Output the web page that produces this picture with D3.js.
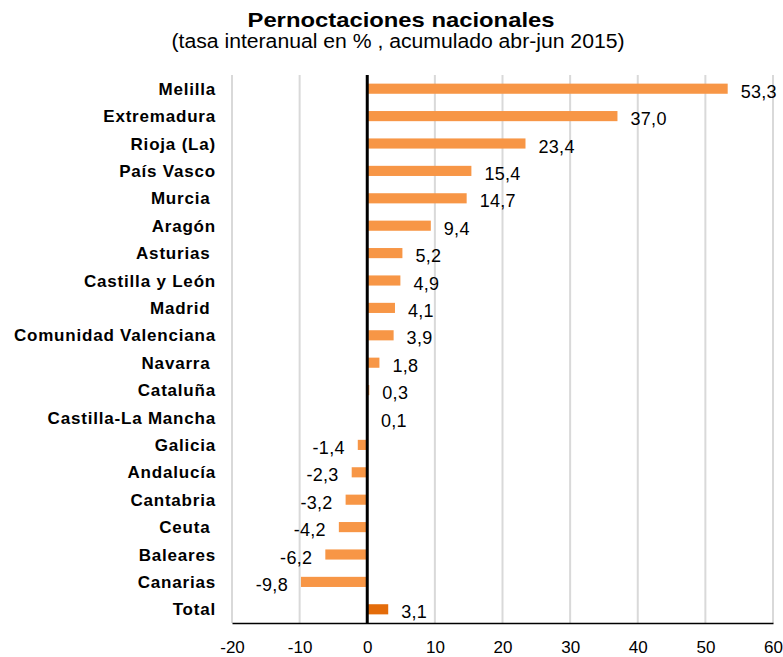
<!DOCTYPE html>
<html>
<head>
<meta charset="utf-8">
<script src="https://cdn.jsdelivr.net/npm/d3@7"></script>
<style>
  body { margin: 0; background: #fff; }
  text { font-family: "Liberation Sans", Arial, Helvetica, sans-serif; }
</style>
</head>
<body>
<div id="graph"></div>
<script>
var regiones = ["Melilla", "Extremadura", "Rioja (La)", "País Vasco", "Murcia ", "Aragón", "Asturias ",
  "Castilla y León", "Madrid ", "Comunidad Valenciana", "Navarra ", "Cataluña", "Castilla-La Mancha",
  "Galicia", "Andalucía", "Cantabria", "Ceuta ", "Baleares", "Canarias", "Total"];
var tasas = [53.3, 37.0, 23.4, 15.4, 14.7, 9.4, 5.2, 4.9, 4.1, 3.9, 1.8, 0.3, 0.1,
  -1.4, -2.3, -3.2, -4.2, -6.2, -9.8, 3.1];
var ticksX = [-20, -10, 0, 10, 20, 30, 40, 50, 60];

var data = regiones.map(function(r, i) { return {region: r, valor: tasas[i]}; });

var width = 783, height = 657;
var margin = {top: 75, right: 10, bottom: 34, left: 232};

var svg = d3.select("#graph").append("svg")
    .attr("width", width)
    .attr("height", height);

var x = d3.scaleLinear()
    .domain([-20, 60])
    .range([margin.left, width - margin.right]);

var y = d3.scaleBand()
    .domain(regiones)
    .range([margin.top, height - margin.bottom])
    .paddingInner(0.63)
    .paddingOuter(0.315);

var fmt = function(v) { return d3.format(".1f")(v).replace(".", ",").replace("−", "-"); };

// titulo
svg.append("text")
    .attr("x", 401).attr("y", 27)
    .attr("text-anchor", "middle")
    .attr("textLength", 307)
    .attr("lengthAdjust", "spacingAndGlyphs")
    .style("font-size", "21px")
    .style("font-weight", "bold")
    .text("Pernoctaciones nacionales");

svg.append("text")
    .attr("x", 398).attr("y", 48)
    .attr("text-anchor", "middle")
    .attr("textLength", 453)
    .attr("lengthAdjust", "spacingAndGlyphs")
    .style("font-size", "20px")
    .text("(tasa interanual en % , acumulado abr-jun 2015)");

// rejilla
svg.append("g").selectAll("line")
    .data(ticksX.filter(function(t) { return t !== 0; }))
    .enter().append("line")
    .attr("x1", function(d) { return x(d); })
    .attr("x2", function(d) { return x(d); })
    .attr("y1", margin.top)
    .attr("y2", height - margin.bottom)
    .style("stroke", "#d9d9d9")
    .style("stroke-width", 2);

// barras
svg.append("g").selectAll("rect")
    .data(data)
    .enter().append("rect")
    .attr("x", function(d) { return x(Math.min(0, d.valor)); })
    .attr("y", function(d) { return y(d.region); })
    .attr("width", function(d) { return Math.abs(x(d.valor) - x(0)); })
    .attr("height", y.bandwidth())
    .style("fill", function(d) { return d.region === "Total" ? "#e46c0a" : "#f79646"; });

// eje x
var xAxis = svg.append("g")
    .attr("transform", "translate(0," + (height - margin.bottom) + ")")
    .call(d3.axisBottom(x).tickValues(ticksX).tickSize(0).tickPadding(18).tickFormat(function(d) { return fmt(d).replace(",0", ""); }));
xAxis.select(".domain").style("stroke", "#000").style("stroke-width", 1.5);
xAxis.selectAll("text")
    .style("font-size", "17px")
    .style("font-family", "'Liberation Sans', Arial, sans-serif")
    .style("fill", "#000");

// linea del cero
svg.append("line")
    .attr("x1", x(0)).attr("x2", x(0))
    .attr("y1", margin.top).attr("y2", height - margin.bottom)
    .style("stroke", "#000")
    .style("stroke-width", 3);

// etiquetas de categoria
svg.append("g").selectAll("text")
    .data(data)
    .enter().append("text")
    .attr("x", 216)
    .attr("y", function(d) { return y(d.region) + y.bandwidth() / 2; })
    .attr("dy", "0.36em")
    .attr("text-anchor", "end")
    .style("white-space", "pre")
    .style("font-size", "17px")
    .style("font-weight", "bold")
    .style("letter-spacing", "0.8px")
    .text(function(d) { return d.region; });

// etiquetas de valor
svg.append("g").selectAll("text")
    .data(data)
    .enter().append("text")
    .attr("x", function(d) { return d.valor >= 0 ? x(d.valor) + 13 : x(d.valor) - 13; })
    .attr("y", function(d) { return y(d.region) + y.bandwidth() / 2 + 9; })
    .attr("text-anchor", function(d) { return d.valor >= 0 ? "start" : "end"; })
    .style("font-size", "18px")
    .style("letter-spacing", "0.3px")
    .text(function(d) { return fmt(d.valor); });
</script>
</body>
</html>
